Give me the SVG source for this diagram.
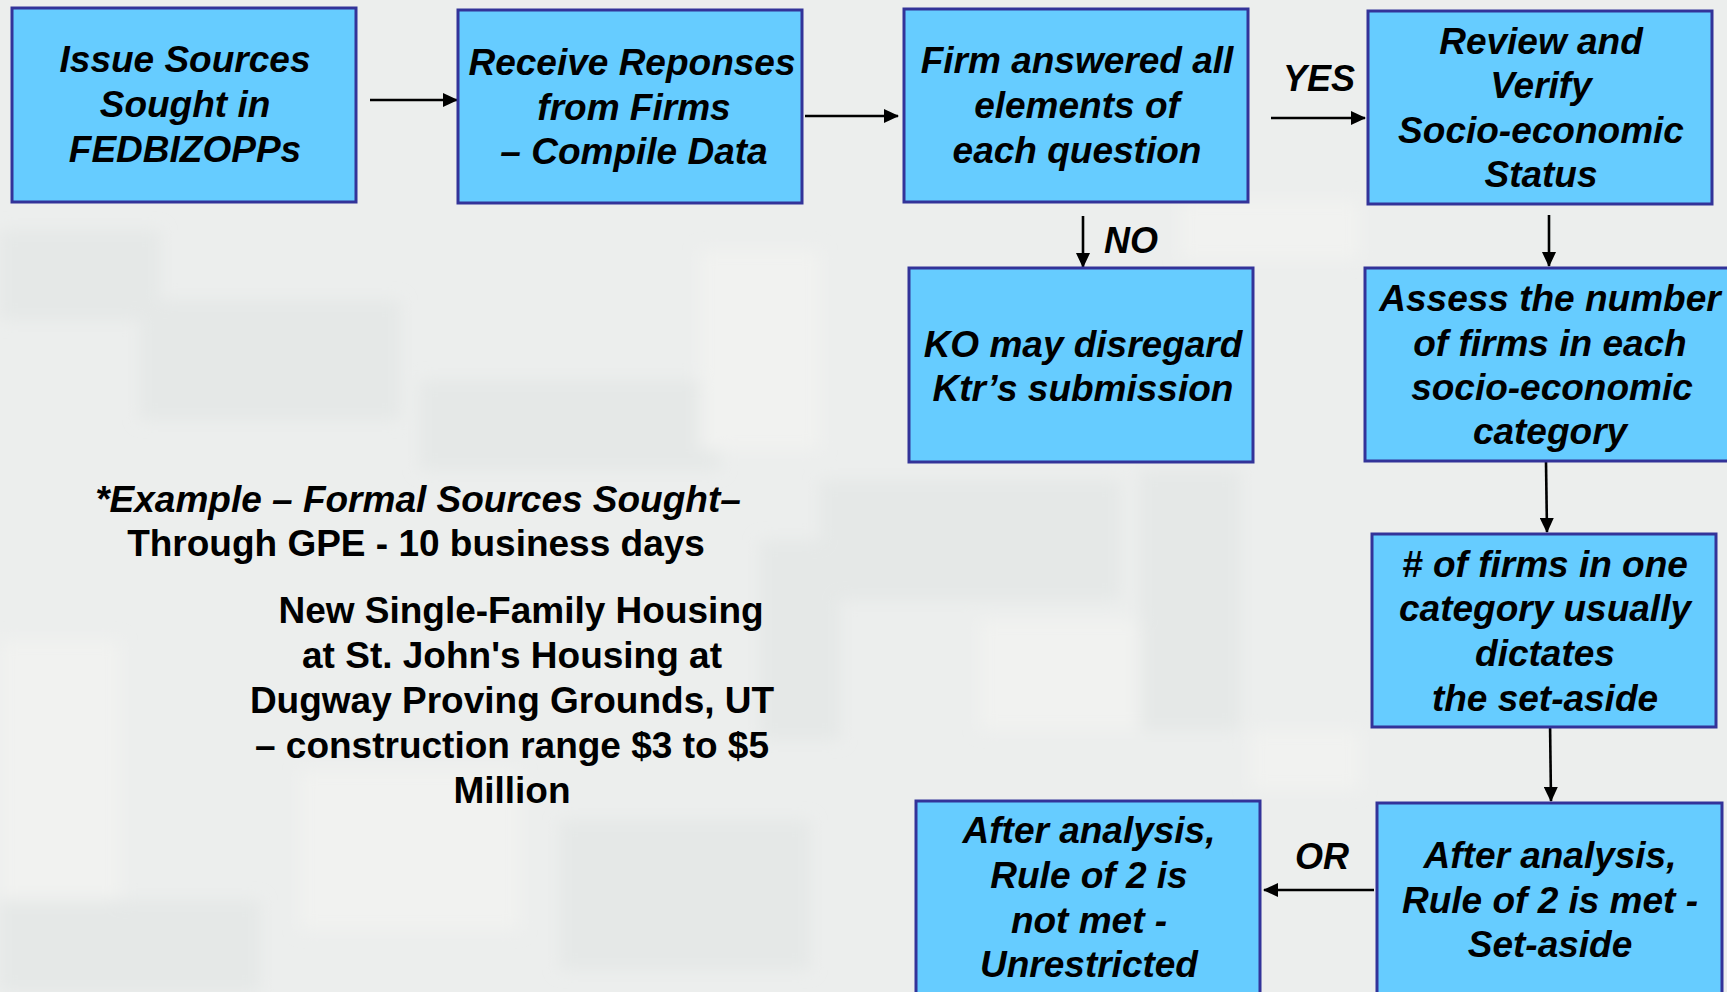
<svg xmlns="http://www.w3.org/2000/svg" width="1727" height="992" viewBox="0 0 1727 992">
  <defs>
    <style>
      .box { fill: #66CCFF; stroke: #333399; stroke-width: 3; }
      .bt { font-family: "Liberation Sans", Arial, sans-serif; font-size: 37px; font-weight: bold; font-style: italic; fill: #000; text-anchor: middle; }
      .lbl { font-family: "Liberation Sans", Arial, sans-serif; font-size: 36px; font-weight: bold; font-style: italic; fill: #000; text-anchor: middle; }
      .note { font-family: "Liberation Sans", Arial, sans-serif; font-size: 37px; font-weight: bold; fill: #000; text-anchor: middle; }
      .conn { stroke: #000; stroke-width: 2.6; fill: none; marker-end: url(#arrow); }
      .camo { fill: #e5e8e7; }
      .camo2 { fill: #f1f2f0; }
    </style>
    <marker id="arrow" markerWidth="15" markerHeight="14" refX="14" refY="7" orient="auto" markerUnits="userSpaceOnUse">
      <path d="M0,0 L15,7 L0,14 Z" fill="#000"/>
    </marker>
    <filter id="soft" x="-10%" y="-10%" width="120%" height="120%">
      <feGaussianBlur stdDeviation="8"/>
    </filter>
  </defs>

  <!-- light grey camouflage backdrop -->
  <rect x="0" y="0" width="1727" height="992" fill="#eceeed"/>
  <g filter="url(#soft)">
    <rect class="camo" x="0" y="230" width="160" height="90"/>
    <rect class="camo" x="140" y="300" width="260" height="120"/>
    <rect class="camo2" x="0" y="640" width="120" height="260"/>
    <rect class="camo" x="420" y="380" width="300" height="90"/>
    <rect class="camo2" x="300" y="770" width="220" height="160"/>
    <rect class="camo" x="560" y="820" width="250" height="150"/>
    <rect class="camo2" x="700" y="250" width="120" height="200"/>
    <rect class="camo" x="820" y="480" width="300" height="120"/>
    <rect class="camo2" x="980" y="620" width="260" height="110"/>
    <rect class="camo" x="1140" y="470" width="100" height="260"/>
    <rect class="camo2" x="1180" y="200" width="180" height="60"/>
    <rect class="camo" x="0" y="900" width="260" height="92"/>
    <rect class="camo2" x="1250" y="730" width="110" height="60"/>
    <rect class="camo" x="760" y="540" width="80" height="200"/>
  </g>

  <!-- connectors -->
  <g id="connectors">
    <line class="conn" x1="370" y1="100" x2="457" y2="100"/>
    <line class="conn" x1="805" y1="116" x2="898" y2="116"/>
    <line class="conn" x1="1271" y1="118" x2="1365" y2="118"/>
    <line class="conn" x1="1083" y1="216" x2="1083" y2="267"/>
    <line class="conn" x1="1549" y1="215" x2="1549" y2="266"/>
    <line class="conn" x1="1546" y1="462" x2="1547" y2="532"/>
    <line class="conn" x1="1550" y1="721" x2="1551" y2="801"/>
    <line class="conn" x1="1374" y1="890" x2="1264" y2="890"/>
    <text class="lbl" x="1319" y="91">YES</text>
    <text class="lbl" x="1131" y="253">NO</text>
    <text class="lbl" x="1322" y="869">OR</text>
  </g>

  <g id="issue-sources">
    <rect class="box" x="12" y="8" width="344" height="194"/>
    <text class="bt" x="185" y="72">Issue Sources</text>
    <text class="bt" x="185" y="117">Sought in</text>
    <text class="bt" x="185" y="162">FEDBIZOPPs</text>
  </g>

  <g id="receive-responses">
    <rect class="box" x="458" y="10" width="344" height="193"/>
    <text class="bt" x="632" y="75">Receive Reponses</text>
    <text class="bt" x="634" y="120">from Firms</text>
    <text class="bt" x="634" y="164">– Compile Data</text>
  </g>

  <g id="firm-answered">
    <rect class="box" x="904" y="9" width="344" height="193"/>
    <text class="bt" x="1077" y="73">Firm answered all</text>
    <text class="bt" x="1077" y="118">elements of</text>
    <text class="bt" x="1077" y="163">each question</text>
  </g>

  <g id="review-verify">
    <rect class="box" x="1368" y="11" width="344" height="193"/>
    <text class="bt" x="1541" y="54">Review and</text>
    <text class="bt" x="1541" y="98">Verify</text>
    <text class="bt" x="1541" y="143">Socio-economic</text>
    <text class="bt" x="1541" y="187">Status</text>
  </g>

  <g id="ko-disregard">
    <rect class="box" x="909" y="268" width="344" height="194"/>
    <text class="bt" x="1083" y="357">KO may disregard</text>
    <text class="bt" x="1083" y="401">Ktr’s submission</text>
  </g>

  <g id="assess-number">
    <rect class="box" x="1365" y="268" width="372" height="193"/>
    <text class="bt" x="1550" y="311">Assess the number</text>
    <text class="bt" x="1550" y="356">of firms in each</text>
    <text class="bt" x="1552" y="400">socio-economic</text>
    <text class="bt" x="1550" y="444">category</text>
  </g>

  <g id="firms-one-category">
    <rect class="box" x="1372" y="534" width="344" height="193"/>
    <text class="bt" x="1545" y="577">#  of firms in one</text>
    <text class="bt" x="1545" y="621">category usually</text>
    <text class="bt" x="1545" y="666">dictates</text>
    <text class="bt" x="1545" y="711">the set-aside</text>
  </g>

  <g id="rule-met">
    <rect class="box" x="1377" y="803" width="345" height="210"/>
    <text class="bt" x="1550" y="868">After analysis,</text>
    <text class="bt" x="1550" y="913">Rule of 2 is met -</text>
    <text class="bt" x="1550" y="957">Set-aside</text>
  </g>

  <g id="rule-not-met">
    <rect class="box" x="916" y="801" width="344" height="210"/>
    <text class="bt" x="1089" y="843">After analysis,</text>
    <text class="bt" x="1089" y="888">Rule of 2 is</text>
    <text class="bt" x="1089" y="933">not met -</text>
    <text class="bt" x="1089" y="977">Unrestricted</text>
  </g>

  <g id="example-note">
    <text class="note" x="418" y="512"><tspan font-style="italic">*Example – Formal Sources Sought–</tspan></text>
    <text class="note" x="416" y="556">Through GPE - 10 business days</text>
    <text class="note" x="521" y="623">New Single-Family Housing</text>
    <text class="note" x="512" y="668">at St. John's Housing at</text>
    <text class="note" x="512" y="713">Dugway Proving Grounds, UT</text>
    <text class="note" x="512" y="758">– construction range $3 to $5</text>
    <text class="note" x="512" y="803">Million</text>
  </g>
</svg>
